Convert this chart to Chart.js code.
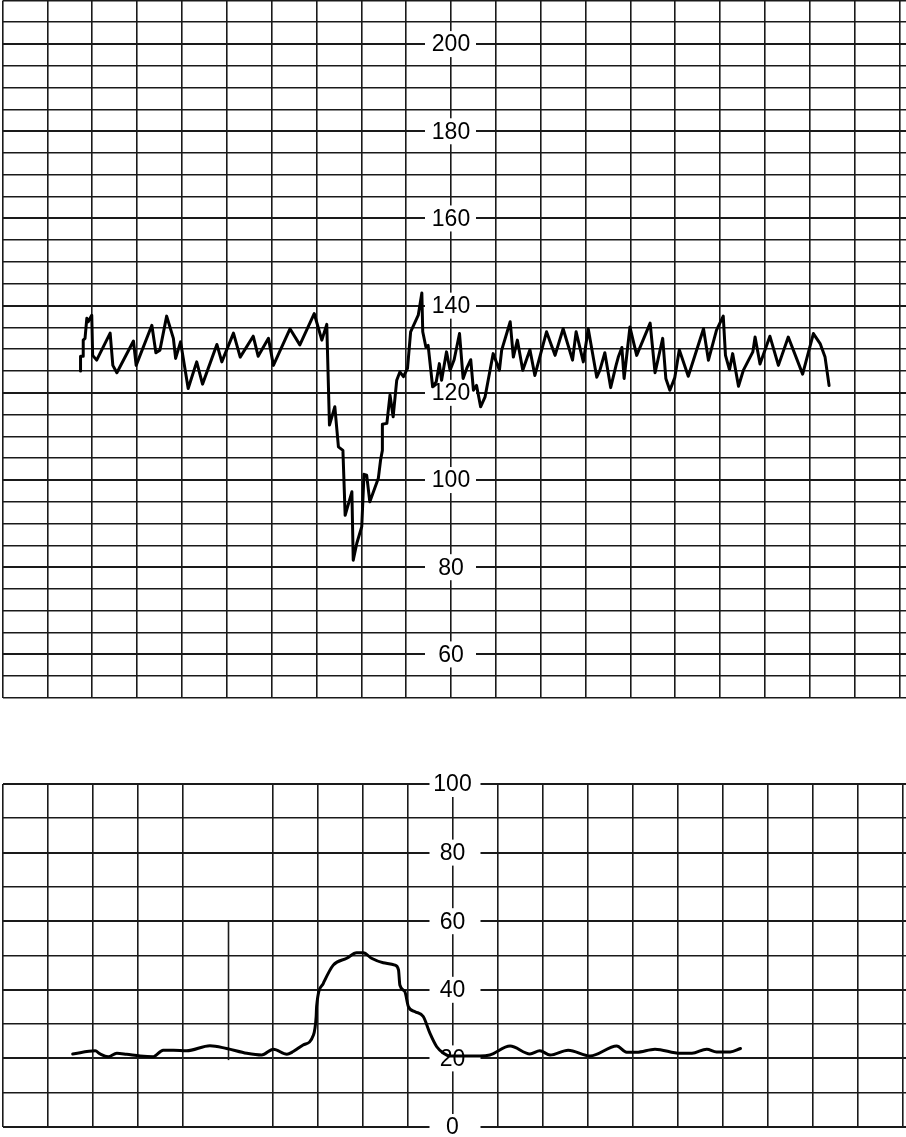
<!DOCTYPE html>
<html><head><meta charset="utf-8">
<script src="https://cdn.jsdelivr.net/npm/chart.js@4/dist/chart.umd.min.js"></script>
<style>
html,body{margin:0;padding:0;background:#fff;}
#wrap{position:relative;width:906px;height:1137px;overflow:hidden;}
#fhr{position:absolute;left:0;top:0;}
#ua{position:absolute;left:0;top:770px;}
</style></head><body>
<div id="wrap">
<canvas id="fhr" width="906" height="700"></canvas>
<canvas id="ua" width="906" height="367"></canvas>
</div>
<script>
// ---- Data (x in minutes / grid divisions) ----
const fhrMinutes = [1.74,1.74,1.80,1.80,1.84,1.88,1.91,1.99,2.01,2.10,2.40,2.46,2.55,2.92,2.98,3.33,3.42,3.51,3.66,3.81,3.86,3.97,4.14,4.33,4.46,4.78,4.89,5.15,5.30,5.59,5.70,5.93,6.04,6.41,6.63,
 6.95,7.12,7.23,7.29,7.41,7.49,7.59,7.64,7.79,7.82,7.90,8.01,8.06,8.12,8.19,8.38,8.43,8.47,8.47,8.57,8.64,8.71,8.79,8.86,8.94,9.03,9.10,9.27,9.35,9.37,9.44,9.49,9.59,9.67,9.74,9.79,9.90,9.98,10.07,10.19,10.27,10.35,10.44,10.50,10.57,10.66,10.76,10.94,11.08,11.13,11.32,11.39,11.48,11.60,11.76,11.87,12.13,12.32,12.50,12.71,12.79,12.95,13.06,13.25,13.32,
 13.43,13.56,13.68,13.73,13.81,13.86,13.99,14.14,14.44,14.55,14.72,14.79,14.88,14.99,15.09,15.29,15.63,15.74,15.92,16.07,16.12,16.21,16.28,16.41,16.52,16.73,16.78,16.89,17.11,17.30,17.52,17.84,18.08,18.23,18.34,18.43];
const fhrValues = [125.0,128.4,128.4,132.1,132.5,137.1,136.3,137.8,128.6,127.5,133.7,126.3,124.6,131.9,126.3,135.5,129.2,129.8,137.6,132.5,127.9,131.7,121.0,127.1,122.0,131.1,127.1,133.7,128.2,133.0,128.4,132.5,126.3,134.7,131.0,
 138.2,132.1,135.7,112.6,116.8,107.6,106.8,91.9,97.3,81.6,85.5,89.3,101.3,101.1,95.0,100.4,104.6,106.8,112.8,113.0,119.5,114.5,122.9,124.8,123.7,125.6,134.0,137.8,142.9,134.0,130.5,130.9,121.4,122.5,126.7,122.9,129.4,125.2,127.6,133.6,123.3,125.6,127.6,120.6,121.7,116.8,119.1,129.0,125.2,129.8,136.3,128.2,132.1,125.2,129.9,124.0,134.0,128.6,134.7,127.5,134.0,127.1,134.7,123.6,125.2,
 129.2,121.2,126.3,128.2,130.4,123.3,135.1,128.6,136.0,124.6,132.5,123.3,120.6,123.5,129.9,123.8,134.7,127.5,134.4,137.6,128.6,125.3,129.0,121.5,125.2,129.4,132.8,126.6,133.0,126.3,132.8,124.3,133.6,131.3,128.2,121.7];

const uaMinutes = [1.56,2.06,2.17,2.35,2.54,2.76,3.06,3.35,3.57,3.80,4.09,4.61,4.98,5.43,5.76,6.02,6.32,6.46,6.68,6.91,6.97,6.98,7.13,7.35,7.65,7.87,8.02,8.20,8.46,8.72,8.80,8.83,8.94,9.02,9.17,9.35,9.50,9.65,9.80,9.94,10.61,10.83,11.28,11.72,11.94,12.17,12.57,13.06,13.65,13.87,14.09,14.50,15.06,15.32,15.65,15.87,16.17,16.40];
const uaValues = [21.3,22.2,21.3,20.5,21.5,21.2,20.7,20.5,22.4,22.4,22.2,23.7,22.9,21.5,21.0,22.7,21.2,22.0,23.9,26.8,32.2,35.1,41.9,47.2,49.2,50.8,50.8,49.2,47.9,47.2,45.8,41.4,39.5,35.1,33.6,32.2,27.3,23.4,21.5,20.7,20.7,21.0,23.6,21.3,22.2,21.0,22.4,20.7,23.6,21.8,21.8,22.7,21.5,21.5,22.7,21.9,21.9,22.9];

const minuteTicks = [0,1,2,3,4,5,6,7,8,9,10,11,12,13,14,15,16,17,18,19,20];
const fhrTickLabels = [200,180,160,140,120,100,80,60];
const uaTickLabels = [100,80,60,40,20,0];

// ---- Plugins ----
const centerLabels = {
  id: 'centerLabels',
  beforeDatasetsDraw(chart, args, opts) {
    const xs = chart.scales.x, ys = chart.scales.y, ctx = chart.ctx;
    const cx = xs.getPixelForValue(opts.at);
    ctx.save();
    ctx.font = '23px "Liberation Sans", Arial, sans-serif';
    ctx.textAlign = 'center';
    ctx.textBaseline = 'middle';
    for (const v of opts.labels) {
      const y = ys.getPixelForValue(v);
      ctx.fillStyle = '#fff';
      ctx.fillRect(cx - 26 + (opts.bx || 0), y - 13, 51, 26);
      ctx.fillStyle = '#000';
      ctx.fillText(String(v), cx, y + 1);
    }
    ctx.restore();
  }
};
const partialLine = {
  id: 'partialLine',
  beforeDatasetsDraw(chart, args, opts) {
    if (!opts || opts.at === undefined) return;
    const xs = chart.scales.x, ys = chart.scales.y, ctx = chart.ctx;
    const x = Math.round(xs.getPixelForValue(opts.at)) + 0.5;
    ctx.save();
    ctx.strokeStyle = '#1a1a1a';
    ctx.lineWidth = 1.6;
    ctx.beginPath();
    ctx.moveTo(x, ys.getPixelForValue(opts.from));
    ctx.lineTo(x, ys.getPixelForValue(opts.to));
    ctx.stroke();
    ctx.restore();
  }
};

const GRID = '#1a1a1a';

function xScale(max, hideAt) {
  return {
    type: 'linear', min: 0, max: max,
    afterBuildTicks: (s) => { s.ticks = minuteTicks.map(v => ({value: v})); },
    ticks: {display: false},
    border: {display: false},
    grid: {
      drawTicks: false,
      lineWidth: 1.6,
      color: (c) => (c.tick && c.tick.value === hideAt) ? 'rgba(0,0,0,0)' : GRID
    }
  };
}
function yScale(min, max, step, labels) {
  return {
    type: 'linear', min: min, max: max,
    ticks: {display: false, stepSize: step},
    border: {display: false},
    grid: {
      drawTicks: false,
      color: GRID,
      lineWidth: (c) => (c.tick && labels.includes(c.tick.value)) ? 2 : 1.6
    }
  };
}

new Chart(document.getElementById('fhr'), {
  type: 'line',
  data: {datasets: [{
    data: fhrMinutes.map((m, i) => ({x: m, y: fhrValues[i]})),
    borderColor: '#000', borderWidth: 3, pointRadius: 0, tension: 0, fill: false,
    borderJoinStyle: 'round', borderCapStyle: 'round'
  }]},
  options: {
    responsive: false, animation: false, devicePixelRatio: 1,
    layout: {padding: {left: 2.5, right: 0, top: 0.5, bottom: 2}},
    plugins: {legend: {display: false}, tooltip: {enabled: false},
      centerLabels: {at: 10, labels: fhrTickLabels}},
    scales: {x: xScale(903.5 / 44.85, -1), y: yScale(50, 210, 5, fhrTickLabels)}
  },
  plugins: [centerLabels]
});

new Chart(document.getElementById('ua'), {
  type: 'line',
  data: {datasets: [{
    data: uaMinutes.map((m, i) => ({x: m, y: uaValues[i]})),
    borderColor: '#000', borderWidth: 3, pointRadius: 0,
    cubicInterpolationMode: 'monotone', fill: false,
    borderJoinStyle: 'round', borderCapStyle: 'round'
  }]},
  options: {
    responsive: false, animation: false, devicePixelRatio: 1,
    layout: {padding: {left: 2.5, right: 0, top: 14, bottom: 10}},
    plugins: {legend: {display: false}, tooltip: {enabled: false},
      centerLabels: {at: 10, labels: uaTickLabels, bx: 3},
      partialLine: {at: 5, from: 60, to: 19.5}},
    scales: {x: xScale(903.5 / 45, 5), y: yScale(0, 100, 10, uaTickLabels)}
  },
  plugins: [centerLabels, partialLine]
});
</script>
</body></html>
